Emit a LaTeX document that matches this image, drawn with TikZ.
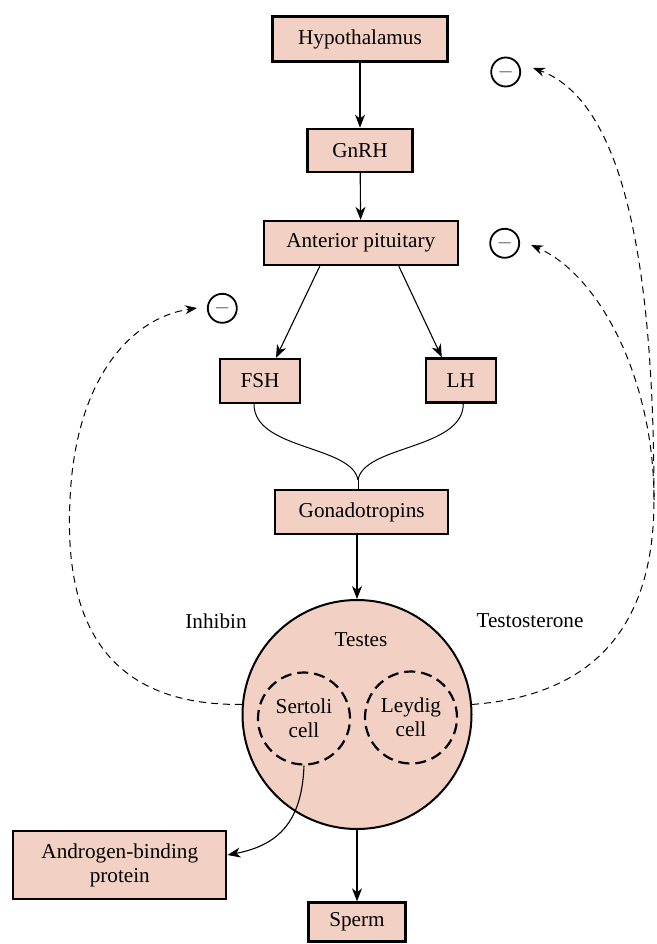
\documentclass[tikz,border=0pt]{standalone}
\usepackage{fontspec}
\setmainfont{Liberation Serif}
\usetikzlibrary{arrows.meta}
\definecolor{boxpink}{RGB}{242,209,196}
\begin{document}
\begin{tikzpicture}[x=1pt,y=-1pt,
  font=\fontsize{21.2}{24}\selectfont,
  box/.style={draw=black,line width=2.3pt,fill=boxpink,inner sep=0pt,align=center},
  arr/.style={line width=1.1pt,-{Stealth[length=13pt,width=10pt,inset=4pt]}},
  fb/.style={line width=1pt,dash pattern=on 7pt off 5pt,-{Stealth[length=12pt,width=9pt,inset=4pt]}},
  cellc/.style={circle,draw=black,line width=2.2pt,dash pattern=on 11pt off 6pt,inner sep=0pt,minimum size=92pt,align=center},
  minus/.style={circle,draw=black,line width=1.8pt,minimum size=29pt,inner sep=0pt,font=\fontsize{20}{20}\selectfont,text=black!75}]
\useasboundingbox (0,0) rectangle (656,944);

\node[box,minimum width=175pt,minimum height=45pt] (hyp) at (360,39) {Hypothalamus};
\node[box,minimum width=105pt,minimum height=43pt] (gnrh) at (360,150.3) {GnRH};
\node[box,minimum width=194pt,minimum height=44pt] (ap) at (360.8,243) {Anterior pituitary};
\node[box,minimum width=80pt,minimum height=44pt] (fsh) at (260,381) {FSH};
\node[box,minimum width=70pt,minimum height=44pt] (lh) at (460.8,380.5) {LH};
\node[box,minimum width=173pt,minimum height=44pt] (gon) at (361.7,512) {Gonadotropins};
\node[circle,draw=black,line width=2pt,fill=boxpink,minimum size=229pt,inner sep=0pt] (testes) at (357,714.5) {};
\node (testlbl) at (361,640) {Testes};
\node[cellc] (sert) at (304,718.5) {Sertoli\\cell};
\node[cellc] (leyd) at (411,717.5) {Leydig\\cell};
\node[box,minimum width=213pt,minimum height=68pt] (abp) at (119.8,865) {Androgen-binding\\protein};
\node[box,minimum width=97pt,minimum height=39pt] (sperm) at (357,922) {Sperm};
\node (inh) at (216,621) {Inhibin};
\node (tst) at (530,621) {Testosterone};
\node[minus] (m1) at (505.7,72) {$-$};
\node[minus] (m2) at (504.7,243.3) {$-$};
\node[minus] (m3) at (222.3,308.3) {$-$};

\coordinate (t1) at (533,68);
\coordinate (t2) at (531,245);
\coordinate (t3) at (197,308);
\coordinate (fork) at (654,500);
\coordinate (merge) at (358,480);

\draw[arr] (hyp) -- (gnrh);
\draw[arr] (gnrh) -- (ap);
\draw[arr] ([xshift=-41pt]ap.south) -- ([xshift=16pt]fsh.north);
\draw[arr] ([xshift=38pt]ap.south) -- ([xshift=-19pt]lh.north);

\draw[line width=1pt] ([xshift=-6pt]fsh.south) .. controls +(0,46) and (352,445) .. (merge);
\draw[line width=1pt] ([xshift=2.5pt]lh.south) .. controls +(0,46) and (364,445) .. (merge);
\draw[line width=1pt] (merge) -- (merge |- gon.north);

\draw[arr] (gon.south -| testes.north) -- (testes.north);
\draw[arr] (testes.south) -- (sperm.north);
\draw[arr] (sert.south) .. controls (302,820) and (280,845) .. ([yshift=10pt]abp.east);

\draw[fb] (testes.5) .. controls (600,695) and (654,620) .. (fork) .. controls (654,250) and (620,100) .. (t1);
\draw[fb] (fork) .. controls (654,380) and (600,275) .. (t2);
\draw[fb] (testes.175) .. controls (90,706) and (65,600) .. (70,500) .. controls (75,380) and (130,318) .. (t3);
\end{tikzpicture}
\end{document}
